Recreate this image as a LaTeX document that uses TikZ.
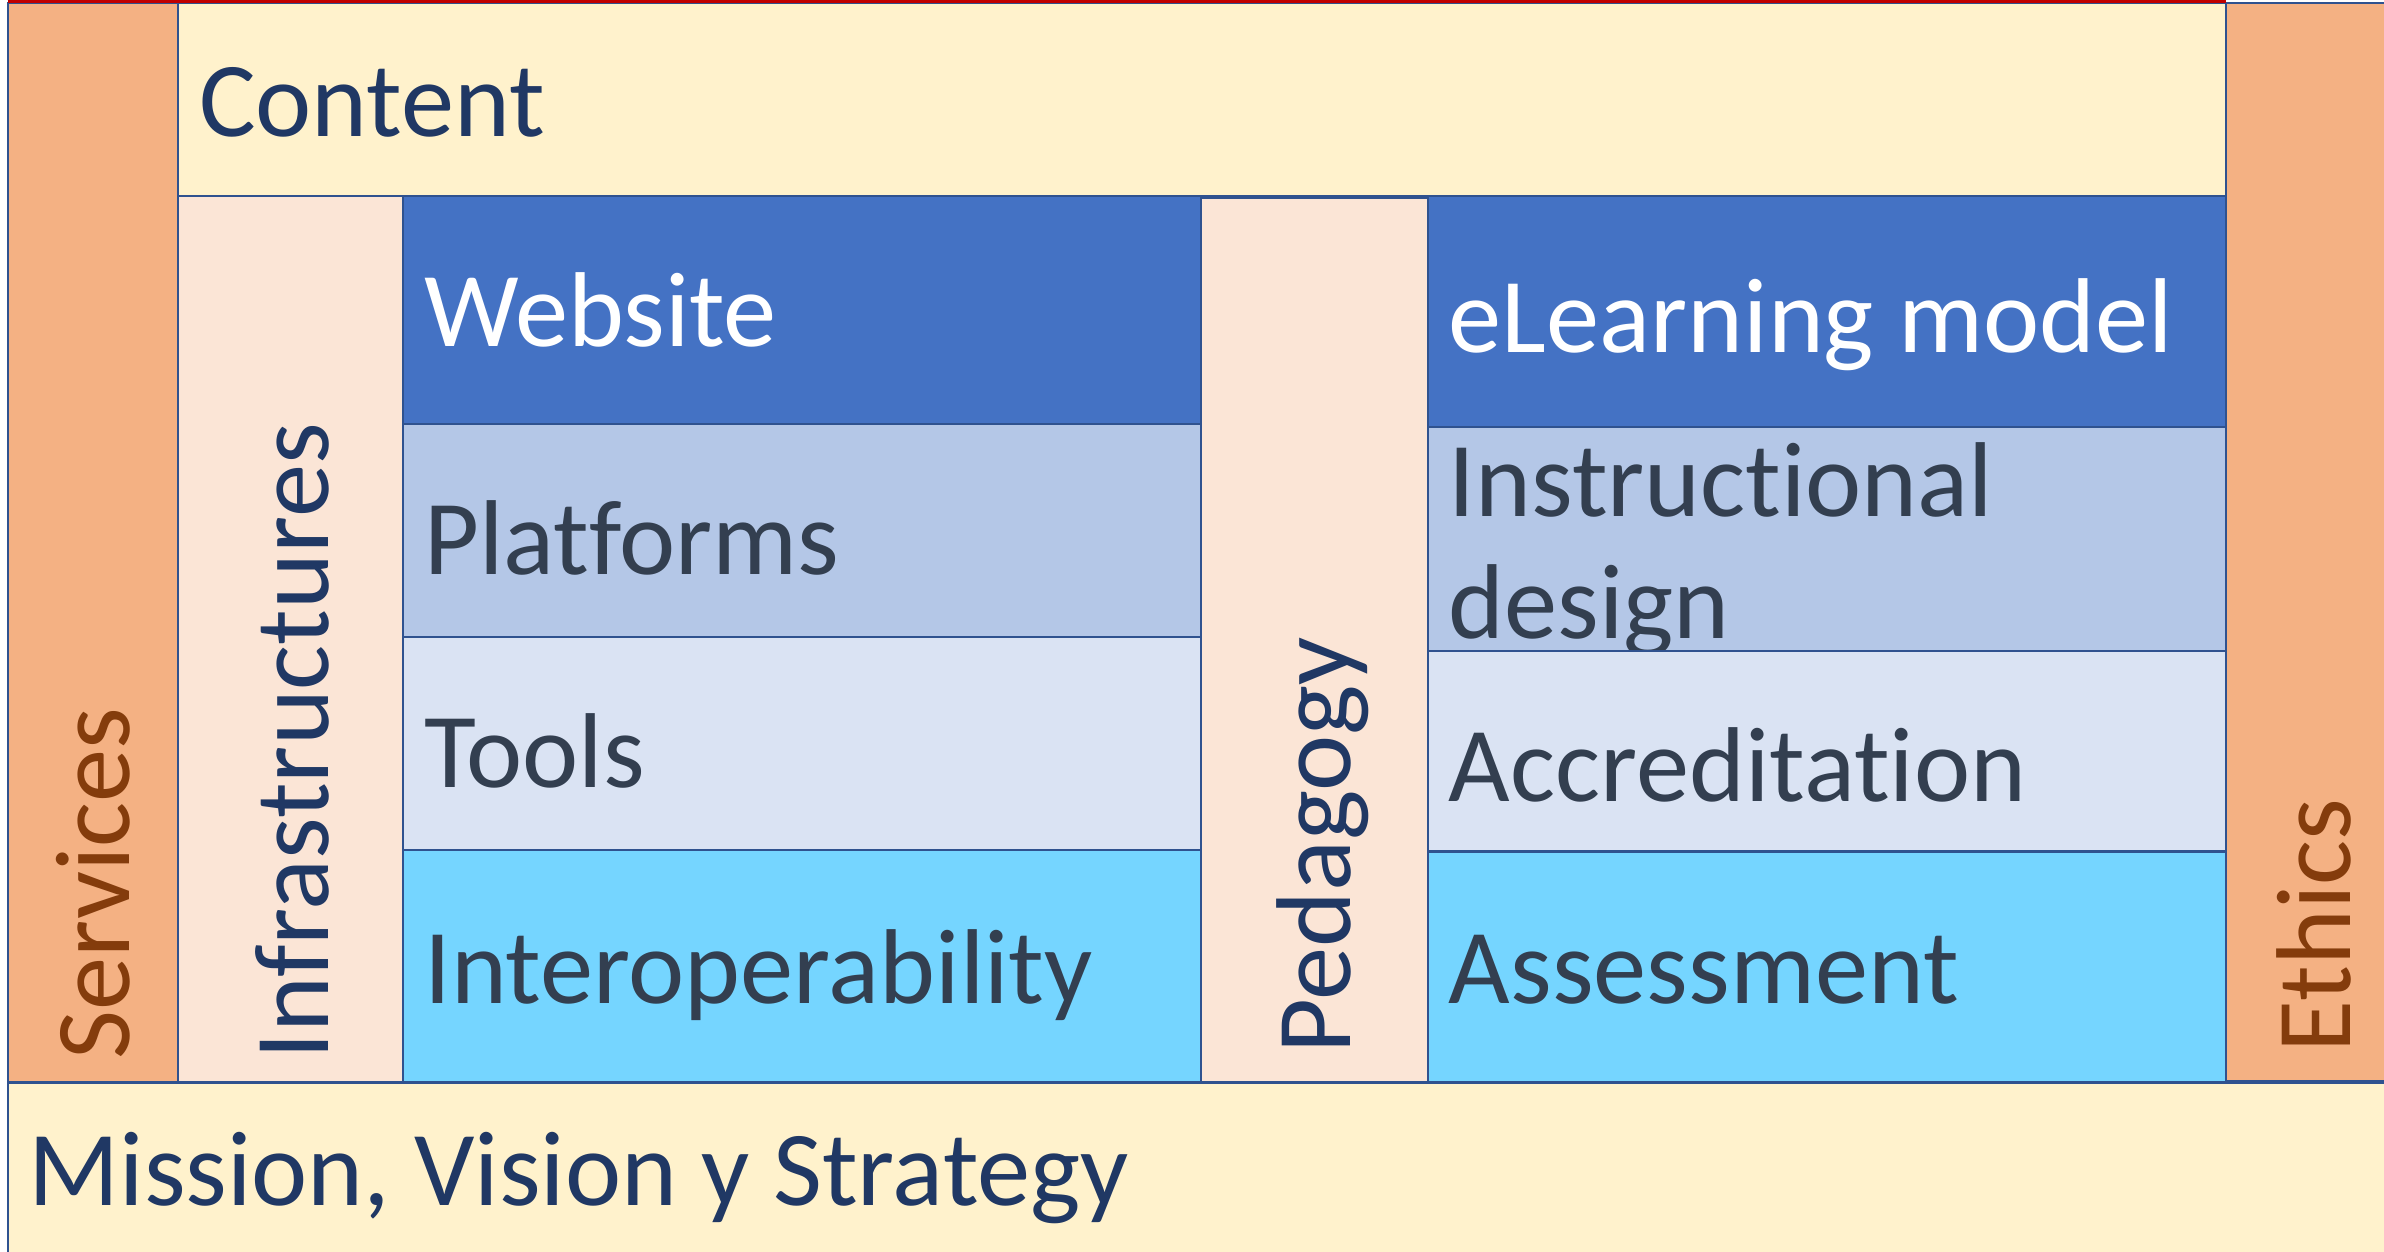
\documentclass[tikz,border=0pt]{standalone}
\usepackage{fontspec}
\setmainfont[Ligatures=NoCommon]{Carlito}
\definecolor{orangeF}{HTML}{F4B183}
\definecolor{brownT}{HTML}{843C0C}
\definecolor{creamF}{HTML}{FFF2CC}
\definecolor{navyT}{HTML}{203864}
\definecolor{peachF}{HTML}{FBE5D6}
\definecolor{blueF}{HTML}{4472C4}
\definecolor{lblueF}{HTML}{B4C7E7}
\definecolor{pblueF}{HTML}{DAE3F3}
\definecolor{cyanF}{HTML}{75D5FF}
\definecolor{slateT}{HTML}{333F50}
\definecolor{borderC}{HTML}{2F528F}
\definecolor{redC}{HTML}{C00000}
\tikzset{
  cellbox/.style={draw=borderC, line width=1.4pt, inner sep=0pt, outer sep=0pt, anchor=north west},
  lbl/.style={inner sep=0pt, outer sep=0pt, font=\fontsize{70}{82}\selectfont},
  lblw/.style={lbl, anchor=base west},
  lblr/.style={lbl, anchor=base west, rotate=90},
}
\newcommand\mkcell[6]{\node[cellbox, fill=#6, minimum width=#4pt-#2pt, minimum height=#5pt-#3pt] (#1) at (#2pt,-#3pt) {};}
\begin{document}
\begin{tikzpicture}[x=1pt,y=1pt]
\useasboundingbox (0,0) rectangle (1568,-823);
\fill[white] (0,0) rectangle (1568,-823);
% side and top bands
\mkcell{services}{5}{2}{117}{712}{orangeF}
\mkcell{content}{117}{2}{1464}{129}{creamF}
\node[lblw, text=navyT] (tcontent) at (131,-90) {Content};
\node[lblr, text=brownT] (tservices) at (85,-697) {Services};
% infrastructures column
\mkcell{infra}{117}{129}{265}{712}{peachF}
\node[lblr, text=navyT] (tinfra) at (216,-697) {Infrastructures};
\mkcell{website}{265}{129}{790}{279}{blueF}
\node[lblw, text=white] (twebsite) at (279,-228) {Website};
\mkcell{platforms}{265}{279}{790}{419}{lblueF}
\node[lblw, text=slateT] (tplatforms) at (279,-378) {Platforms};
\mkcell{tools}{265}{419}{790}{559}{pblueF}
\node[lblw, text=slateT] (ttools) at (279,-518) {Tools};
\mkcell{interop}{265}{559}{790}{712}{cyanF}
\node[lblw, text=slateT] (tinterop) at (279,-660) {Interoperability};
% pedagogy column
\mkcell{pedagogy}{790}{130}{939}{712}{peachF}
\node[lblr, text=navyT] (tpedagogy) at (888,-693) {Pedagogy};
\mkcell{elearning}{939}{129}{1464}{281}{blueF}
\node[lblw, text=white] (telearning) at (953,-232) {eLearning model};
\mkcell{instr}{939}{281}{1464}{428}{lblueF}
\node[lblw, text=slateT] (tinstr1) at (953,-340) {Instructional};
\node[lblw, text=slateT] (tinstr2) at (953,-420) {design};
\mkcell{accred}{939}{428}{1464}{560}{pblueF}
\node[lblw, text=slateT] (taccred) at (953,-527) {Accreditation};
\mkcell{assess}{939}{560}{1464}{712}{cyanF}
\node[lblw, text=slateT] (tassess) at (953,-660) {Assessment};
% ethics
\mkcell{ethics}{1464}{2}{1570}{711}{orangeF}
\node[lblr, text=brownT] (tethics) at (1546,-692) {Ethics};
% mission
\mkcell{mission}{5}{712}{1570}{825}{creamF}
\node[lblw, text=navyT] (tmission) at (19,-793) {Mission, Vision y Strategy};
% top red rule
\draw[redC, line width=2pt] (5,-1) -- (1464,-1);
\end{tikzpicture}
\end{document}
